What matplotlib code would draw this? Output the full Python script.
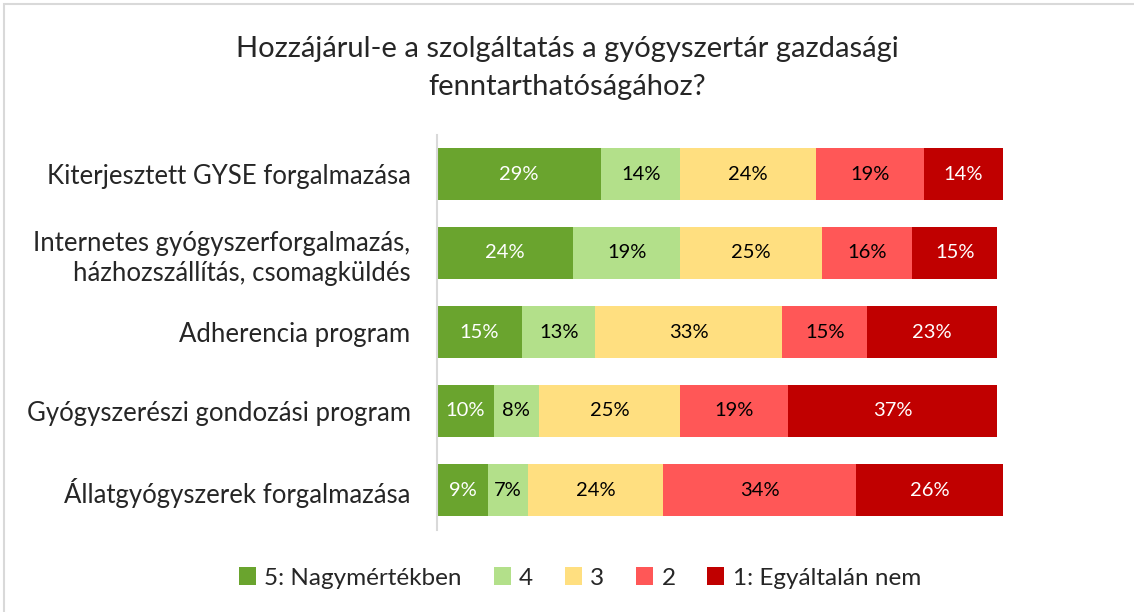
import matplotlib
matplotlib.use("Agg")
import matplotlib.pyplot as plt
from matplotlib.patches import Rectangle

categories = [
    "Kiterjesztett GYSE forgalmazása",
    "Internetes gyógyszerforgalmazás,\nházhozszállítás, csomagküldés",
    "Adherencia program",
    "Gyógyszerészi gondozási program",
    "Állatgyógyszerek forgalmazása",
]
series_names = ["5: Nagymértékben", "4", "3", "2", "1: Egyáltalán nem"]
values = [
    [29, 24, 15, 10, 9],   # 5
    [14, 19, 13, 8, 7],    # 4
    [24, 25, 33, 25, 24],  # 3
    [19, 16, 15, 19, 34],  # 2
    [14, 15, 23, 37, 26],  # 1
]
colors = ["#6aa42e", "#b3e08a", "#ffdf80", "#ff5757", "#c00000"]
text_colors = ["white", "black", "black", "black", "white"]
title = "Hozzájárul-e a szolgáltatás a gyógyszertár gazdasági\nfenntarthatóságához?"

plt.rcParams['font.family'] = ['Lato', 'DejaVu Sans']

fig = plt.figure(figsize=(11.34, 6.12), dpi=100)
ax = fig.add_axes([437/1134, 1-529.5/612, (1003-437)/1134, (529.5-134.5)/612])

y = list(range(len(categories)))
left = [0]*len(categories)
for s, name in enumerate(series_names):
    ax.barh(y, values[s], left=left, height=0.66, color=colors[s], label=name)
    for i, v in enumerate(values[s]):
        ax.text(left[i] + v/2, y[i], f"{v}%", ha="center", va="center",
                color=text_colors[s], fontsize=14.5)
    left = [l + v for l, v in zip(left, values[s])]

ax.set_xlim(0, 100)
ax.set_ylim(len(categories)-0.5, -0.5)
ax.set_yticks(y)
ax.set_yticklabels(categories, fontsize=18.5, color="#262626", linespacing=1.3)
ax.tick_params(axis="y", length=0, pad=19)
ax.set_xticks([])
for sp in ["top", "right", "bottom"]:
    ax.spines[sp].set_visible(False)
ax.spines["left"].set_color("#d9d9d9")
ax.spines["left"].set_linewidth(1.5)

fig.text(567/1134, 1-68/612, title, ha="center", va="center", fontsize=21,
         color="#262626", linespacing=1.6)

leg = fig.legend(loc="center", bbox_to_anchor=(580/1134, 1-578/612), ncol=5,
                 frameon=False, fontsize=17.5, handlelength=0.7, handleheight=0.7,
                 handletextpad=0.35, columnspacing=1.3)
for t in leg.get_texts():
    t.set_color("#262626")

fig.patches.append(Rectangle((4/1134, -0.01), 1.2, 1-4/612+0.01, transform=fig.transFigure,
                             fill=False, edgecolor="#d9d9d9", linewidth=1.5))

fig.savefig("out.png", dpi=100)
